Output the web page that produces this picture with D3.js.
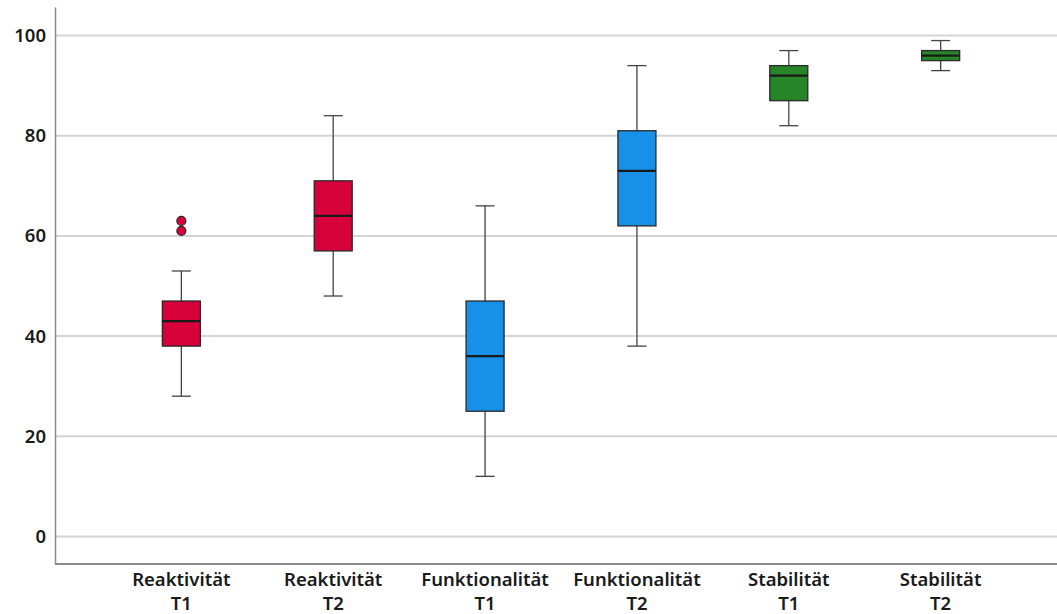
<!DOCTYPE html>
<html>
<head>
<meta charset="utf-8">
<script src="https://cdn.jsdelivr.net/npm/d3@7"></script>
<style>
  body { margin: 0; background: #fff; }
  svg text { font-family: "Noto Sans", sans-serif; fill: #1a1a1a; }
</style>
</head>
<body>
<svg width="1057" height="614"></svg>
<script>
// group labels (two lines each)
var groups = ["Reaktivität T1", "Reaktivität T2", "Funktionalität T1", "Funktionalität T2", "Stabilität T1", "Stabilität T2"];
var lowWhisker = [28, 48, 12, 38, 82, 93];
var q1 = [38, 57, 25, 62, 87, 95];
var median = [43, 64, 36, 73, 92, 96];
var q3 = [47, 71, 47, 81, 94, 97];
var highWhisker = [53, 84, 66, 94, 97, 99];
var outliers = [[63, 61], [], [], [], [], []];
var colors = ["#d6003a", "#d6003a", "#1790e8", "#1790e8", "#268526", "#268526"];
var yTicks = [0, 20, 40, 60, 80, 100];

var svg = d3.select("svg"),
    margin = {top: 7, right: -10, bottom: 50, left: 55},
    width = +svg.attr("width") - margin.left - margin.right,
    height = +svg.attr("height") - margin.top - margin.bottom;

var x = d3.scalePoint()
    .domain(groups)
    .range([margin.left, margin.left + width])
    .padding(0.832);

var y = d3.scaleLinear()
    .domain([-5.5, 105.7])
    .range([margin.top + height, margin.top]);

var boxW = 38, capW = 19;

// gridlines
svg.append("g")
  .selectAll("line")
  .data(yTicks)
  .enter().append("line")
    .attr("x1", margin.left)
    .attr("x2", 1057)
    .attr("y1", function(d) { return y(d); })
    .attr("y2", function(d) { return y(d); })
    .attr("stroke", "#d4d4d4")
    .attr("stroke-width", 2);

// y axis
var yAxis = svg.append("g")
    .attr("transform", "translate(" + margin.left + ",0)")
    .call(d3.axisLeft(y).tickValues(yTicks).tickSize(0).tickPadding(9));
yAxis.select(".domain").attr("stroke", "#8a8a8a").attr("stroke-width", 1.5);
yAxis.selectAll("text")
    .style("font-size", "18.5px")
    .style("font-weight", "600")
    .attr("fill", "#1a1a1a");

// x axis line
svg.append("line")
    .attr("x1", margin.left)
    .attr("x2", 1057)
    .attr("y1", margin.top + height)
    .attr("y2", margin.top + height)
    .attr("stroke", "#8a8a8a")
    .attr("stroke-width", 2);

// x labels
var lab = svg.append("g").selectAll("text")
    .data(groups)
  .enter().append("text")
    .attr("text-anchor", "middle")
    .style("font-size", "18.5px")
    .style("font-weight", "600")
    .attr("x", function(d) { return x(d); })
    .attr("y", 586);
lab.append("tspan")
    .attr("x", function(d) { return x(d); })
    .text(function(d) { return d.split(" ")[0]; });
lab.append("tspan")
    .attr("x", function(d) { return x(d); })
    .attr("dy", 24)
    .text(function(d) { return d.split(" ")[1]; });

// boxes
var box = svg.append("g").selectAll("g")
    .data(groups)
  .enter().append("g");

box.append("line")
    .attr("x1", function(d) { return x(d); })
    .attr("x2", function(d) { return x(d); })
    .attr("y1", function(d, i) { return y(highWhisker[i]); })
    .attr("y2", function(d, i) { return y(lowWhisker[i]); })
    .attr("stroke", "#444")
    .attr("stroke-width", 1.3);

box.append("line")
    .attr("x1", function(d) { return x(d) - capW / 2; })
    .attr("x2", function(d) { return x(d) + capW / 2; })
    .attr("y1", function(d, i) { return y(highWhisker[i]); })
    .attr("y2", function(d, i) { return y(highWhisker[i]); })
    .attr("stroke", "#444")
    .attr("stroke-width", 1.3);

box.append("line")
    .attr("x1", function(d) { return x(d) - capW / 2; })
    .attr("x2", function(d) { return x(d) + capW / 2; })
    .attr("y1", function(d, i) { return y(lowWhisker[i]); })
    .attr("y2", function(d, i) { return y(lowWhisker[i]); })
    .attr("stroke", "#444")
    .attr("stroke-width", 1.3);

box.append("rect")
    .attr("x", function(d) { return x(d) - boxW / 2; })
    .attr("width", boxW)
    .attr("y", function(d, i) { return y(q3[i]); })
    .attr("height", function(d, i) { return y(q1[i]) - y(q3[i]); })
    .attr("fill", function(d, i) { return colors[i]; })
    .attr("stroke", "#2a2a2a")
    .attr("stroke-width", 1.3);

box.append("line")
    .attr("x1", function(d) { return x(d) - boxW / 2; })
    .attr("x2", function(d) { return x(d) + boxW / 2; })
    .attr("y1", function(d, i) { return y(median[i]); })
    .attr("y2", function(d, i) { return y(median[i]); })
    .attr("stroke", "#1a1a1a")
    .attr("stroke-width", 2.2);

box.selectAll("circle")
    .data(function(d, i) { return outliers[i].map(function(v) { return {g: d, v: v, c: colors[i]}; }); })
  .enter().append("circle")
    .attr("cx", function(d) { return x(d.g); })
    .attr("cy", function(d) { return y(d.v); })
    .attr("r", 4.5)
    .attr("fill", function(d) { return d.c; })
    .attr("stroke", "#2a2a2a")
    .attr("stroke-width", 1.2);
</script>
</body>
</html>
